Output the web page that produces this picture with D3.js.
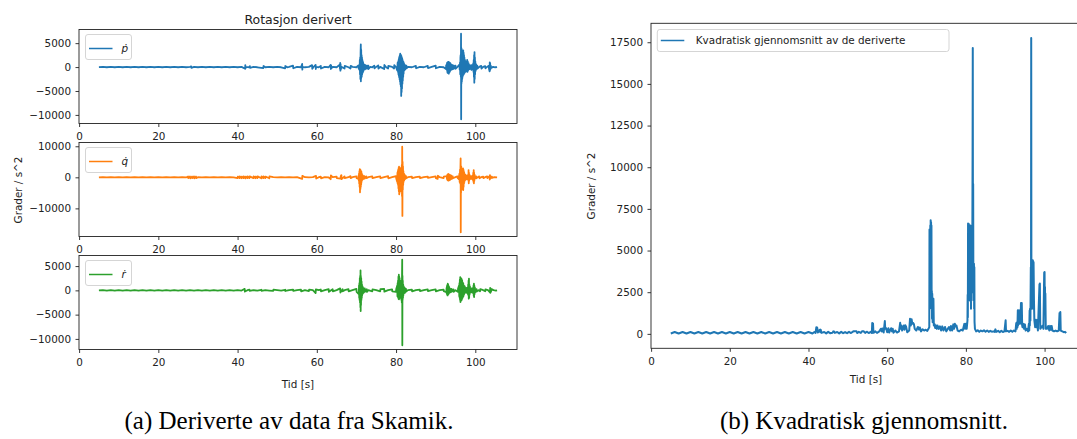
<!DOCTYPE html>
<html><head><meta charset="utf-8">
<script src="https://cdn.jsdelivr.net/npm/d3@7"></script>
<style>body{margin:0;background:#fff} svg{display:block}</style>
</head><body><svg id="c" width="1077" height="439"></svg>
<script>
// ---------------- DATA ----------------
const timeTicks = [0, 20, 40, 60, 80, 100];
const pTicks = [-10000, -5000, 0, 5000];
const qTicks = [-10000, 0, 10000];
const rTicks = [-10000, -5000, 0, 5000];
const rmsTicks = [0, 2500, 5000, 7500, 10000, 12500, 15000, 17500];

const pDot = [[5,0],[6,40],[7,-40],[8,40],[9,-40],[10,40],[11,-40],[12,40],[13,-40],[14,40],[15,-40],[16,40],[17,-40],[18,40],[19,-40],[20,40],[21,-40],[22,40],[23,-40],[24,40],[25,-40],[26,40],[27,-40],[28,40],[28.3,150],[28.35,-150],[29,40],[30,-40],[31,40],[32,-40],[33,40],[34,-40],[35,40],[36,-40],[37,40],[38,-40],[39,40],[40,-40],[41,40],[41.9,-350],[41.95,400],[42.0,-300],[42.05,40],[43,-40],[43.1,200],[43.15,-150],[44,40],[45,-40],[46.5,-220],[46.55,220],[47,-40],[48,40],[49,-40],[50,40],[51,-40],[52,-250],[52.05,220],[52.5,-40],[53,40],[54,280],[54.05,-250],[55,40],[56,-40],[56.3,650],[56.35,-550],[56.4,40],[57,-40],[58,40],[58.8,400],[58.85,-350],[59.2,40],[59.7,450],[59.75,-400],[59.8,40],[60.5,-40],[61,250],[61.05,-300],[62,40],[63,-40],[63.5,450],[63.55,-400],[63.6,350],[63.65,-300],[64,40],[65,-40],[65.8,500],[65.85,-400],[65.9,850],[65.95,-750],[66.0,600],[66.05,-500],[66.2,40],[67,-300],[67.05,250],[68,-40],[68.5,-300],[68.55,250],[69,40],[70,-40],[70.5,350],[70.55,-250],[70.8,-600],[70.85,1500],[70.9,-1500],[70.95,2000],[71.0,-2500],[71.05,3000],[71.1,4730],[71.12,-2980],[71.15,3800],[71.18,-2500],[71.2,3600],[71.25,-2200],[71.3,2500],[71.35,-1900],[71.4,2000],[71.45,-1500],[71.5,1500],[71.55,-1200],[71.6,1200],[71.65,-1000],[71.7,900],[71.75,-800],[71.85,600],[71.9,-600],[72.0,500],[72.1,-500],[72.3,400],[72.4,-350],[72.7,300],[72.75,-300],[73,300],[73.05,-400],[73.5,40],[74,-40],[74.5,300],[74.55,-250],[75,40],[75.5,350],[75.55,-300],[76,40],[77,-400],[77.05,450],[77.5,-40],[78,-300],[78.05,250],[79,40],[79.5,-300],[79.55,400],[80,-40],[80.3,-700],[80.4,900],[80.5,-1000],[80.55,1200],[80.6,-1500],[80.65,1500],[80.7,-1800],[80.75,1900],[80.8,-2200],[80.85,2200],[80.9,-2600],[80.95,2500],[81.0,-3000],[81.05,2800],[81.1,-3600],[81.15,2600],[81.2,-4000],[81.25,2500],[81.3,-6040],[81.35,2300],[81.4,-5200],[81.45,2000],[81.5,-4500],[81.55,1800],[81.6,-3500],[81.65,1500],[81.7,-2800],[81.75,1200],[81.8,-2000],[81.85,1100],[81.9,-1400],[82.0,800],[82.1,-700],[82.2,500],[82.3,-500],[82.6,300],[82.65,-250],[83,40],[84,-40],[85,250],[85.05,-250],[86,40],[87,-40],[88,250],[88.05,-200],[89,40],[90,300],[90.05,-250],[91,40],[92,-40],[92.6,-400],[92.65,400],[92.8,-600],[92.85,700],[92.9,900],[92.95,-1000],[93.0,-1200],[93.05,1000],[93.1,-1100],[93.15,1100],[93.2,-1300],[93.25,1100],[93.3,-1380],[93.35,1040],[93.4,-1200],[93.45,1000],[93.5,-1000],[93.55,900],[93.6,-900],[93.7,800],[93.75,-700],[93.85,600],[93.9,-600],[94.0,500],[94.1,-500],[94.3,400],[94.4,-400],[94.6,300],[94.65,-300],[95,300],[95.05,-350],[95.5,40],[96,500],[96.05,-500],[96.15,1000],[96.2,-1500],[96.25,2000],[96.3,2500],[96.35,-2000],[96.4,6960],[96.43,-10900],[96.47,4000],[96.5,-3500],[96.55,3800],[96.6,-3000],[96.65,3200],[96.7,-2500],[96.75,3000],[96.8,-2000],[96.85,2800],[96.9,-1700],[96.95,3500],[97.0,-1600],[97.05,3000],[97.1,-1500],[97.15,2500],[97.2,-1300],[97.25,2000],[97.3,-1200],[97.4,1500],[97.45,-1000],[97.55,1200],[97.6,-900],[97.75,900],[97.8,-900],[97.95,1500],[98.0,-1000],[98.1,1200],[98.15,-800],[98.3,800],[98.35,-500],[98.6,400],[98.65,-400],[99.0,400],[99.05,-600],[99.5,800],[99.55,-1000],[99.6,1500],[99.65,-2000],[99.7,2500],[99.75,-3250],[99.8,3125],[99.85,-2500],[99.9,2000],[99.95,-1500],[100.0,1200],[100.1,-800],[100.2,600],[100.3,-400],[100.5,300],[100.55,-300],[101,40],[101.5,250],[101.55,-300],[102,40],[102.5,200],[102.55,-250],[103,40],[103.4,300],[103.45,-300],[103.6,-900],[103.65,1000],[103.7,-700],[103.75,800],[103.8,-500],[103.9,300],[104.0,-200],[104.5,40],[105,-40],[105.5,0]];

const qDot = [[5,0],[6,40],[7,-40],[8,40],[9,-40],[10,40],[11,-40],[12,40],[13,-40],[14,40],[15,-40],[16,40],[17,-40],[18,40],[19,-40],[20,40],[21,-40],[22,40],[23,-40],[24,40],[25,-40],[26,40],[27,-40],[27.5,250],[27.55,-250],[28,250],[28.05,-300],[28.5,250],[28.55,-250],[29,280],[29.05,-300],[29.5,250],[29.55,-250],[30,40],[31,-40],[32,40],[33,-40],[34,40],[35,-40],[36,40],[37,-40],[38,40],[39,-40],[40,-250],[40.05,250],[40.5,-250],[40.55,300],[41,-280],[41.05,250],[41.5,-250],[41.55,280],[42,-300],[42.05,250],[42.5,-250],[42.55,280],[43,-250],[43.05,300],[44,-250],[44.05,300],[44.5,-280],[44.55,250],[45,-250],[45.05,300],[46,-300],[46.05,280],[46.5,-250],[46.55,280],[47,-250],[47.05,250],[48,-300],[48.05,300],[49,40],[50,-40],[51,40],[52,-40],[53,40],[54,-40],[55,40],[56.3,-500],[56.35,450],[57,40],[58,-40],[59,40],[59.8,450],[59.85,-400],[60.5,40],[61,250],[61.05,-300],[62,40],[63,-40],[63.5,-600],[63.55,600],[64,40],[65,250],[65.05,-250],[66,-400],[66.05,450],[66.2,700],[66.25,-600],[67,300],[67.05,-250],[68,40],[68.5,400],[68.55,-250],[69,40],[70,300],[70.05,-300],[70.5,-500],[70.55,600],[70.6,-1000],[70.65,1200],[70.7,-2000],[70.75,2000],[70.8,-3000],[70.85,2670],[70.9,-4820],[70.95,2500],[71.0,-3800],[71.05,2300],[71.1,-3000],[71.15,2000],[71.2,-2200],[71.25,1800],[71.3,-1500],[71.35,1200],[71.4,-1000],[71.5,800],[71.55,-700],[71.7,500],[71.75,-500],[72.0,400],[72.05,-400],[72.5,300],[72.55,-250],[73,40],[74,300],[74.05,-250],[75,40],[76,300],[76.05,-250],[77,40],[78,350],[78.05,-300],[79,40],[80,400],[80.05,-400],[80.3,-1500],[80.35,1500],[80.4,-2000],[80.45,2000],[80.5,-2500],[80.55,2500],[80.6,-3500],[80.65,3000],[80.7,-4500],[80.75,3400],[80.8,-5470],[80.85,3200],[80.9,-5000],[80.95,3000],[81.0,-4500],[81.05,2800],[81.1,-4000],[81.15,2500],[81.2,-3000],[81.25,2800],[81.3,-3500],[81.35,3000],[81.4,-4500],[81.45,4000],[81.5,-6000],[81.55,9840],[81.6,-12440],[81.65,5000],[81.7,-4000],[81.75,3500],[81.8,-2500],[81.85,2000],[81.9,-1500],[82.0,1200],[82.05,-1000],[82.2,800],[82.25,-600],[82.5,400],[82.55,-300],[83,40],[84,250],[84.05,-250],[85,40],[86,200],[86.05,-250],[87,40],[88,250],[88.05,-200],[89,40],[90,300],[90.05,-250],[90.5,-500],[90.55,500],[91,40],[92,-250],[92.05,250],[92.8,400],[92.85,-500],[92.9,700],[92.95,-800],[93.0,900],[93.05,-900],[93.1,1000],[93.15,-1000],[93.2,1060],[93.25,-1060],[93.3,1000],[93.35,-1000],[93.45,900],[93.5,-900],[93.6,800],[93.65,-800],[93.75,700],[93.8,-600],[94.0,500],[94.05,-500],[94.3,300],[94.35,-300],[95,40],[95.5,300],[95.55,-300],[95.8,400],[95.85,-600],[96.0,1200],[96.05,-1500],[96.15,2500],[96.2,-2000],[96.25,3000],[96.3,6100],[96.33,-17680],[96.37,3000],[96.4,-5000],[96.45,3500],[96.5,-4000],[96.55,2500],[96.6,-3000],[96.65,2000],[96.7,-2500],[96.8,2500],[96.85,-3000],[96.9,2900],[96.95,-4080],[97.0,2500],[97.05,-3000],[97.1,2000],[97.15,-2000],[97.2,1500],[97.25,-1500],[97.35,1000],[97.4,-1000],[97.6,700],[97.65,-700],[98.0,600],[98.05,-600],[98.2,800],[98.25,-1000],[98.3,2350],[98.35,-1930],[98.4,1500],[98.45,-1200],[98.55,800],[98.6,-600],[98.9,400],[98.95,-500],[99.3,500],[99.35,-800],[99.5,1500],[99.55,-1500],[99.6,2350],[99.65,-1930],[99.7,1500],[99.75,-1200],[99.85,800],[99.9,-500],[100.2,300],[100.25,-300],[100.6,40],[101,300],[101.05,-300],[101.5,40],[102,250],[102.05,-250],[102.5,40],[103,300],[103.05,-250],[103.6,400],[103.65,-700],[103.7,700],[103.75,-500],[103.85,400],[103.9,-300],[104.2,200],[104.25,-150],[104.8,40],[105.5,0]];

const rDot = [[5,0],[6,40],[7,-40],[8,40],[9,-40],[10,40],[11,-40],[12,40],[13,-40],[14,40],[15,-40],[16,40],[17,-40],[18,40],[19,-40],[20,40],[21,-40],[22,40],[23,-40],[24,40],[25,-40],[26,40],[27,-40],[28,40],[29,-40],[30,40],[31,-40],[32,40],[33,-40],[34,40],[35,-40],[36,40],[37,-40],[38,40],[39,-40],[40,40],[41,-40],[41.8,300],[41.85,-250],[42.5,40],[43,150],[43.05,-120],[44,40],[45,-40],[46,120],[46.05,-100],[47,40],[48,-40],[49,-120],[49.05,130],[50,40],[51,-40],[52,120],[52.05,-130],[53,40],[54,140],[54.05,-120],[55,40],[56,150],[56.05,-200],[57,40],[58,-150],[58.05,160],[59,40],[59.7,-550],[59.75,200],[60.5,40],[61,180],[61.05,-200],[62,40],[63,250],[63.05,-300],[64,250],[64.05,-200],[65,40],[65.9,400],[65.95,-450],[66.5,250],[66.55,-200],[67,40],[68,250],[68.05,-200],[69,40],[70,300],[70.05,-300],[70.6,-800],[70.65,1000],[70.7,-1500],[70.75,1500],[70.8,-2000],[70.85,2500],[70.9,-2500],[70.95,3000],[71.0,-3500],[71.03,4100],[71.07,-4250],[71.1,3000],[71.15,-3000],[71.2,2500],[71.25,-2000],[71.3,1800],[71.35,-1500],[71.4,1200],[71.45,-1000],[71.55,800],[71.6,-700],[71.75,500],[71.8,-500],[72.1,400],[72.15,-300],[72.6,250],[72.65,-300],[73,40],[74,-200],[74.05,200],[75,40],[76,-200],[76.05,250],[77,300],[77.05,-250],[78,40],[79,200],[79.05,-200],[80,-300],[80.05,300],[80.3,1000],[80.35,-1200],[80.4,1500],[80.45,-1300],[80.5,2000],[80.55,-1500],[80.6,2800],[80.65,-1800],[80.7,3220],[80.75,-1850],[80.8,2800],[80.85,-1700],[80.9,2500],[80.95,-1500],[81.0,2000],[81.05,-1500],[81.1,1800],[81.15,-1200],[81.2,1500],[81.25,-1500],[81.3,1500],[81.35,-2000],[81.4,2000],[81.45,-2500],[81.5,2500],[81.55,6300],[81.58,-11300],[81.62,3000],[81.65,-2000],[81.7,2000],[81.75,-1500],[81.8,1200],[81.85,-1000],[81.95,800],[82.0,-600],[82.2,500],[82.25,-500],[82.5,300],[82.55,-250],[83,40],[84,150],[84.05,-200],[85,40],[86,150],[86.05,-150],[87,40],[88,200],[88.05,-150],[89,40],[90,200],[90.05,-200],[91,40],[92,150],[92.05,-150],[92.7,-400],[92.75,500],[92.8,-700],[92.85,900],[92.9,-900],[92.95,1100],[93.0,-1030],[93.05,1370],[93.1,-900],[93.15,1200],[93.2,-800],[93.25,900],[93.3,-700],[93.4,700],[93.45,-500],[93.6,400],[93.65,-400],[94,300],[94.05,-300],[94.5,200],[94.55,-300],[95,40],[95.6,-300],[95.65,400],[95.9,1000],[95.95,-1200],[96.0,1500],[96.05,-1500],[96.1,2200],[96.15,-2000],[96.2,2740],[96.25,-2400],[96.3,2500],[96.35,-2200],[96.4,2500],[96.45,-2000],[96.5,2400],[96.55,-2000],[96.6,2200],[96.65,-1800],[96.7,2000],[96.75,-1600],[96.8,1600],[96.85,-1400],[96.95,1500],[97.0,-1200],[97.1,1000],[97.15,-900],[97.35,800],[97.4,-500],[97.7,500],[97.75,-500],[98.1,600],[98.15,-800],[98.2,1200],[98.25,-1000],[98.3,2000],[98.35,-1700],[98.4,2400],[98.45,-1500],[98.5,1200],[98.55,-900],[98.65,800],[98.7,-500],[99.0,400],[99.05,-400],[99.4,500],[99.45,-600],[99.55,1000],[99.6,-1100],[99.65,1370],[99.7,-1370],[99.75,1000],[99.8,-800],[99.9,600],[99.95,-400],[100.3,250],[100.35,-250],[100.8,40],[101.2,-200],[101.25,250],[102,40],[102.5,-200],[102.55,200],[103.2,40],[103.7,-400],[103.75,500],[103.8,-500],[103.85,400],[103.95,-300],[104.1,250],[104.6,40],[105.2,-40],[105.5,0]];

const rms = [[5,20],[6,110],[7,20],[8,110],[9,20],[10,110],[11,20],[12,110],[13,20],[14,110],[15,20],[16,110],[17,20],[18,110],[19,20],[20,110],[21,20],[22,110],[23,20],[24,110],[25,20],[26,110],[27,20],[28,110],[29,20],[30,110],[31,20],[32,110],[33,20],[34,110],[35,20],[36,110],[37,20],[38,110],[39,20],[40,110],[41,20],[41.5,110],[41.8,60],[42.0,400],[42.1,150],[42.2,380],[42.4,80],[42.9,250],[43.0,100],[43.1,240],[43.3,60],[44,110],[44.5,30],[45,120],[45.5,40],[46.1,60],[46.3,150],[46.5,140],[46.7,60],[47.3,110],[47.8,30],[48.3,120],[48.8,40],[49.3,110],[49.8,40],[50.3,120],[50.8,50],[51.4,150],[51.8,160],[52.2,150],[52.4,50],[52.8,120],[53.3,60],[53.6,150],[54.0,160],[54.4,60],[54.8,130],[55.3,50],[55.8,120],[56.1,50],[56.2,650],[56.3,300],[56.4,620],[56.5,60],[57.0,150],[57.4,60],[58.0,150],[58.4,310],[58.6,150],[58.8,320],[59.1,80],[59.4,770],[59.5,300],[59.7,350],[60.0,100],[60.3,340],[60.5,80],[61.0,340],[61.2,150],[61.4,310],[61.6,70],[62.1,200],[62.5,80],[63.0,150],[63.3,660],[63.4,300],[63.6,500],[63.8,200],[64.2,500],[64.4,250],[64.6,520],[64.8,430],[65.1,100],[65.6,200],[65.8,910],[66.0,500],[66.2,880],[66.4,600],[66.6,650],[66.8,570],[67.0,300],[67.4,200],[67.8,410],[68.1,250],[68.3,380],[68.6,150],[69.0,280],[69.4,200],[69.8,250],[70.2,180],[70.5,300],[70.7,400],[70.75,6260],[70.8,1500],[70.85,6000],[70.9,2500],[70.95,6500],[71.0,3000],[71.05,6820],[71.1,4000],[71.15,6700],[71.2,2000],[71.25,6500],[71.3,1500],[71.35,2570],[71.4,900],[71.45,2400],[71.55,700],[71.65,2110],[71.7,800],[71.75,2100],[71.85,500],[72.0,600],[72.2,350],[72.4,510],[72.6,300],[72.8,500],[73.1,300],[73.4,450],[73.7,200],[74.0,450],[74.3,200],[74.7,410],[75.0,150],[75.4,300],[75.7,410],[76.0,200],[76.2,470],[76.5,200],[76.8,570],[77.0,300],[77.2,600],[77.4,450],[77.6,500],[77.9,200],[78.3,150],[78.8,250],[79.2,200],[79.6,600],[79.8,300],[80.0,610],[80.2,300],[80.4,800],[80.45,2350],[80.5,1000],[80.55,6620],[80.6,2000],[80.65,6500],[80.7,3000],[80.75,6600],[80.8,2500],[80.85,6400],[80.9,3000],[80.95,6500],[81.0,2000],[81.05,6450],[81.1,3500],[81.15,6500],[81.2,2500],[81.25,6400],[81.3,1500],[81.35,5000],[81.4,2000],[81.45,6300],[81.5,3000],[81.55,6000],[81.6,2500],[81.7,10800],[81.75,17150],[81.8,4000],[81.85,9000],[81.9,3000],[81.95,4220],[82.0,2000],[82.05,4200],[82.1,1500],[82.15,4000],[82.2,710],[82.3,300],[82.6,150],[83,220],[83.4,120],[83.8,200],[84.2,150],[84.6,220],[85,130],[85.4,200],[85.8,120],[86.2,180],[86.6,130],[87.0,150],[87.3,120],[87.5,270],[87.7,120],[88.2,180],[88.6,100],[89,180],[89.4,110],[89.8,150],[90.1,810],[90.2,150],[90.6,180],[91.0,120],[91.4,200],[91.8,120],[92.2,200],[92.6,150],[92.8,650],[92.9,300],[93.0,700],[93.1,400],[93.2,1410],[93.25,500],[93.3,1300],[93.4,800],[93.5,1410],[93.6,600],[93.8,1000],[93.9,800],[94.0,1850],[94.05,600],[94.1,1800],[94.15,800],[94.2,1850],[94.3,500],[94.4,400],[94.6,600],[94.8,300],[95.0,570],[95.2,200],[95.5,300],[95.8,150],[96.0,600],[96.1,200],[96.2,1400],[96.25,500],[96.3,1500],[96.4,800],[96.5,4000],[96.55,1500],[96.6,17750],[96.65,3000],[96.7,4000],[96.75,1500],[96.8,3980],[96.85,2000],[96.9,4000],[96.95,2500],[97.0,4415],[97.05,2000],[97.1,4350],[97.15,1500],[97.2,4300],[97.3,2000],[97.4,810],[97.6,400],[97.8,850],[97.9,400],[98.1,810],[98.3,200],[98.7,2970],[98.75,1000],[98.8,3015],[98.9,300],[99.2,400],[99.5,500],[99.7,300],[99.9,3680],[99.95,1500],[100.0,3710],[100.05,1500],[100.1,2810],[100.15,1200],[100.2,2415],[100.3,310],[100.6,300],[100.9,470],[101.2,200],[101.4,480],[101.6,250],[101.8,470],[102.0,200],[102.4,150],[102.8,200],[103.2,150],[103.6,200],[103.8,1250],[103.9,600],[104.0,1310],[104.1,200],[104.5,150],[104.9,100],[105.2,120],[105.5,50]];

const titleLeft = "Rotasjon derivert";
const yLabel = "Grader / s^2";
const xLabel = "Tid [s]";
const legendP = "p", legendQ = "q", legendR = "r";
const legendRms = "Kvadratisk gjennomsnitt av de deriverte";
const captionA = "(a) Deriverte av data fra Skamik.";
const captionB = "(b) Kvadratisk gjennomsnitt.";

// ---------------- DRAWING ----------------
const svg = d3.select("#c");
const FONT = "DejaVu Sans, sans-serif";
const TXT = "#222";
const FS = 10.4;

function padded(ext) { const m = (ext[1] - ext[0]) * 0.05; return [ext[0] - m, ext[1] + m]; }
const xDomain = padded(d3.extent(pDot, d => d[0]));

let clipId = 0;
function panel(o) {
  const x = d3.scaleLinear().domain(xDomain).range([o.left, o.left + o.width]);
  const y = d3.scaleLinear().domain(padded(d3.extent(o.data, d => d[1]))).range([o.top + o.height, o.top]);
  const g = svg.append("g");
  const id = "clip" + (clipId++);
  g.append("clipPath").attr("id", id).append("rect")
    .attr("x", o.left).attr("y", o.top).attr("width", o.width).attr("height", o.height);
  g.append("path").datum(o.data)
    .attr("clip-path", `url(#${id})`)
    .attr("fill", "none").attr("stroke", o.color).attr("stroke-width", o.sw || 1.8)
    .attr("stroke-linejoin", "round")
    .attr("d", d3.line().x(d => x(d[0])).y(d => y(d[1])));
  g.append("rect").attr("x", o.left).attr("y", o.top).attr("width", o.width).attr("height", o.height)
    .attr("fill", "none").attr("stroke", "#222").attr("stroke-width", 0.9);
  const ax = g.append("g").attr("transform", `translate(0,${o.top + o.height})`)
    .call(d3.axisBottom(x).tickValues(timeTicks).tickSize(3.5).tickPadding(5.5).tickFormat(d3.format("d")));
  const ay = g.append("g").attr("transform", `translate(${o.left},0)`)
    .call(d3.axisLeft(y).tickValues(o.yTicks).tickSize(3.5).tickPadding(4.5).tickFormat(d3.format("d")));
  [ax, ay].forEach(a => {
    a.select(".domain").remove();
    a.selectAll("line").attr("stroke", "#222").attr("stroke-width", 0.9);
    a.selectAll("text").attr("fill", TXT).attr("font-size", FS).attr("font-family", FONT);
  });
  const lg = g.append("g");
  lg.append("rect").attr("x", o.lx).attr("y", o.ly).attr("width", o.lw).attr("height", o.lh)
    .attr("rx", 2.5).attr("fill", "#fff").attr("fill-opacity", 0.8).attr("stroke", "#d0d0d0").attr("stroke-width", 0.9);
  const cy = o.ly + o.lh / 2 + (o.math ? 1.5 : 0);
  lg.append("line").attr("x1", o.lx + 3.5).attr("x2", o.lx + 27).attr("y1", cy).attr("y2", cy)
    .attr("stroke", o.color).attr("stroke-width", 1.5);
  const t = lg.append("text").attr("x", o.lx + (o.math ? 36 : 38.5)).attr("y", cy + 3.8)
    .attr("font-family", FONT).attr("font-size", FS).attr("fill", TXT);
  if (o.math) t.append("tspan").attr("font-style", "italic").text(o.legend + "\u0307");
  else t.text(o.legend);
  return {x, y};
}

const L = {left: 79, width: 438, height: 94};
const tops = [29.5, 142.5, 255.5];
panel({...L, top: tops[0], data: pDot, color: "#1f77b4", yTicks: pTicks, legend: legendP, math: true, lx: 85.5, ly: tops[0] + 5, lw: 46, lh: 25});
panel({...L, top: tops[1], data: qDot, color: "#ff7f0e", yTicks: qTicks, legend: legendQ, math: true, lx: 85.5, ly: tops[1] + 5, lw: 46, lh: 25});
panel({...L, top: tops[2], data: rDot, color: "#2ca02c", yTicks: rTicks, legend: legendR, math: true, lx: 85.5, ly: tops[2] + 5, lw: 46, lh: 25});

const R = {left: 651, width: 435, top: 23.3, height: 325};
panel({...R, data: rms, color: "#1f77b4", sw: 2, yTicks: rmsTicks, legend: legendRms, math: false, lx: 657.3, ly: 29.5, lw: 291.7, lh: 22});

function label(txt, x, y, rot, size, fam) {
  svg.append("text").attr("transform", `translate(${x},${y}) rotate(${rot || 0})`)
    .attr("text-anchor", "middle").attr("font-family", fam || FONT).attr("font-size", size || FS)
    .attr("fill", TXT).text(txt);
}
label(titleLeft, 298, 23.5, 0, 12.5);
label(yLabel, 22, 190, -90);
label(yLabel, 595, 186, -90);
label(xLabel, 298, 387.5);
label(xLabel, 866, 383);
const SERIF = "Liberation Serif, Times New Roman, serif";
svg.append("text").attr("x", 289).attr("y", 429).attr("text-anchor", "middle")
  .attr("font-family", SERIF).attr("font-size", 25).attr("fill", "#000").text(captionA);
svg.append("text").attr("x", 864).attr("y", 429).attr("text-anchor", "middle")
  .attr("font-family", SERIF).attr("font-size", 25).attr("fill", "#000").text(captionB);
</script>
</body></html>
